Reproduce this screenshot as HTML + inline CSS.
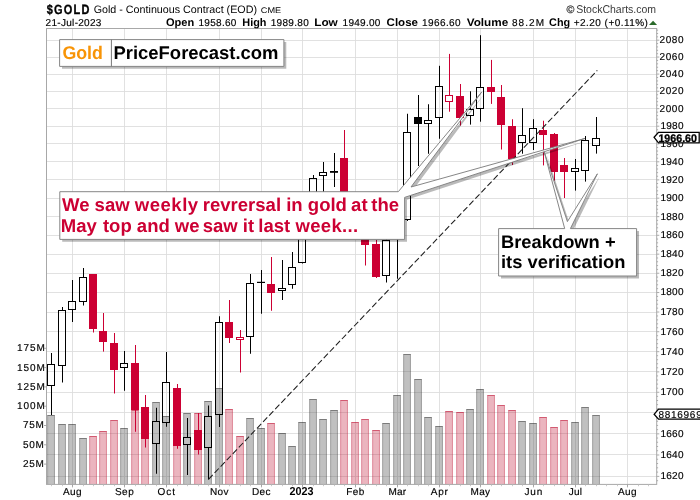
<!DOCTYPE html>
<html lang="en"><head><meta charset="utf-8"><title>$GOLD weekly chart</title>
<style>html,body{margin:0;padding:0;background:#fff}body{width:700px;height:500px;overflow:hidden}</style></head>
<body>
<svg width="700" height="500" viewBox="0 0 700 500" style="display:block;font-family:'Liberation Sans',sans-serif;text-rendering:geometricPrecision">
<rect width="700" height="500" fill="#fff"/>
<g stroke="#dcdcdc" stroke-width="0.85">
<line x1="46.5" y1="476.50" x2="656.7" y2="476.50"/>
<line x1="46.5" y1="454.50" x2="656.7" y2="454.50"/>
<line x1="46.5" y1="433.50" x2="656.7" y2="433.50"/>
<line x1="46.5" y1="412.50" x2="656.7" y2="412.50"/>
<line x1="46.5" y1="392.50" x2="656.7" y2="392.50"/>
<line x1="46.5" y1="371.50" x2="656.7" y2="371.50"/>
<line x1="46.5" y1="351.50" x2="656.7" y2="351.50"/>
<line x1="46.5" y1="331.50" x2="656.7" y2="331.50"/>
<line x1="46.5" y1="312.50" x2="656.7" y2="312.50"/>
<line x1="46.5" y1="292.50" x2="656.7" y2="292.50"/>
<line x1="46.5" y1="273.50" x2="656.7" y2="273.50"/>
<line x1="46.5" y1="254.50" x2="656.7" y2="254.50"/>
<line x1="46.5" y1="235.50" x2="656.7" y2="235.50"/>
<line x1="46.5" y1="216.50" x2="656.7" y2="216.50"/>
<line x1="46.5" y1="198.50" x2="656.7" y2="198.50"/>
<line x1="46.5" y1="179.50" x2="656.7" y2="179.50"/>
<line x1="46.5" y1="161.50" x2="656.7" y2="161.50"/>
<line x1="46.5" y1="143.50" x2="656.7" y2="143.50"/>
<line x1="46.5" y1="126.50" x2="656.7" y2="126.50"/>
<line x1="46.5" y1="108.50" x2="656.7" y2="108.50"/>
<line x1="46.5" y1="91.50" x2="656.7" y2="91.50"/>
<line x1="46.5" y1="74.50" x2="656.7" y2="74.50"/>
<line x1="46.5" y1="57.50" x2="656.7" y2="57.50"/>
<line x1="46.5" y1="40.50" x2="656.7" y2="40.50"/>
<line x1="72.50" y1="28.5" x2="72.50" y2="484.4"/>
<line x1="124.50" y1="28.5" x2="124.50" y2="484.4"/>
<line x1="166.50" y1="28.5" x2="166.50" y2="484.4"/>
<line x1="219.50" y1="28.5" x2="219.50" y2="484.4"/>
<line x1="261.50" y1="28.5" x2="261.50" y2="484.4"/>
<line x1="302.50" y1="28.5" x2="302.50" y2="484.4"/>
<line x1="355.50" y1="28.5" x2="355.50" y2="484.4"/>
<line x1="397.50" y1="28.5" x2="397.50" y2="484.4"/>
<line x1="439.50" y1="28.5" x2="439.50" y2="484.4"/>
<line x1="480.50" y1="28.5" x2="480.50" y2="484.4"/>
<line x1="533.50" y1="28.5" x2="533.50" y2="484.4"/>
<line x1="575.50" y1="28.5" x2="575.50" y2="484.4"/>
<line x1="627.50" y1="28.5" x2="627.50" y2="484.4"/>
</g>
<rect x="47.25" y="415" width="7.6" height="69.4" fill="rgba(90,90,90,0.38)"/>
<rect x="47.25" y="416" width="0.9" height="68.4" fill="rgba(0,0,0,0.23)"/>
<rect x="53.95" y="416" width="0.9" height="68.4" fill="rgba(0,0,0,0.23)"/>
<rect x="47.25" y="415" width="7.6" height="1" fill="rgba(0,0,0,0.36)"/>
<rect x="58.25" y="424" width="7.6" height="60.4" fill="rgba(90,90,90,0.38)"/>
<rect x="58.25" y="425" width="0.9" height="59.4" fill="rgba(0,0,0,0.23)"/>
<rect x="64.95" y="425" width="0.9" height="59.4" fill="rgba(0,0,0,0.23)"/>
<rect x="58.25" y="424" width="7.6" height="1" fill="rgba(0,0,0,0.36)"/>
<rect x="68.25" y="424" width="7.6" height="60.4" fill="rgba(90,90,90,0.38)"/>
<rect x="68.25" y="425" width="0.9" height="59.4" fill="rgba(0,0,0,0.23)"/>
<rect x="74.95" y="425" width="0.9" height="59.4" fill="rgba(0,0,0,0.23)"/>
<rect x="68.25" y="424" width="7.6" height="1" fill="rgba(0,0,0,0.36)"/>
<rect x="79.25" y="438" width="7.6" height="46.4" fill="rgba(90,90,90,0.38)"/>
<rect x="79.25" y="439" width="0.9" height="45.4" fill="rgba(0,0,0,0.23)"/>
<rect x="85.95" y="439" width="0.9" height="45.4" fill="rgba(0,0,0,0.23)"/>
<rect x="79.25" y="438" width="7.6" height="1" fill="rgba(0,0,0,0.36)"/>
<rect x="89.25" y="436" width="7.6" height="48.4" fill="rgba(190,15,50,0.31)"/>
<rect x="89.25" y="437" width="0.9" height="47.4" fill="rgba(190,15,50,0.33)"/>
<rect x="95.95" y="437" width="0.9" height="47.4" fill="rgba(190,15,50,0.33)"/>
<rect x="89.25" y="436" width="7.6" height="1" fill="rgba(190,15,50,0.55)"/>
<rect x="99.25" y="431" width="7.6" height="53.4" fill="rgba(190,15,50,0.31)"/>
<rect x="99.25" y="432" width="0.9" height="52.4" fill="rgba(190,15,50,0.33)"/>
<rect x="105.95" y="432" width="0.9" height="52.4" fill="rgba(190,15,50,0.33)"/>
<rect x="99.25" y="431" width="7.6" height="1" fill="rgba(190,15,50,0.55)"/>
<rect x="110.25" y="420" width="7.6" height="64.4" fill="rgba(190,15,50,0.31)"/>
<rect x="110.25" y="421" width="0.9" height="63.4" fill="rgba(190,15,50,0.33)"/>
<rect x="116.95" y="421" width="0.9" height="63.4" fill="rgba(190,15,50,0.33)"/>
<rect x="110.25" y="420" width="7.6" height="1" fill="rgba(190,15,50,0.55)"/>
<rect x="120.25" y="428" width="7.6" height="56.4" fill="rgba(90,90,90,0.38)"/>
<rect x="120.25" y="429" width="0.9" height="55.4" fill="rgba(0,0,0,0.23)"/>
<rect x="126.95" y="429" width="0.9" height="55.4" fill="rgba(0,0,0,0.23)"/>
<rect x="120.25" y="428" width="7.6" height="1" fill="rgba(0,0,0,0.36)"/>
<rect x="131.25" y="410" width="7.6" height="74.4" fill="rgba(190,15,50,0.31)"/>
<rect x="131.25" y="411" width="0.9" height="73.4" fill="rgba(190,15,50,0.33)"/>
<rect x="137.95" y="411" width="0.9" height="73.4" fill="rgba(190,15,50,0.33)"/>
<rect x="131.25" y="410" width="7.6" height="1" fill="rgba(190,15,50,0.55)"/>
<rect x="141.25" y="410" width="7.6" height="74.4" fill="rgba(190,15,50,0.31)"/>
<rect x="141.25" y="411" width="0.9" height="73.4" fill="rgba(190,15,50,0.33)"/>
<rect x="147.95" y="411" width="0.9" height="73.4" fill="rgba(190,15,50,0.33)"/>
<rect x="141.25" y="410" width="7.6" height="1" fill="rgba(190,15,50,0.55)"/>
<rect x="152.25" y="402" width="7.6" height="82.4" fill="rgba(90,90,90,0.38)"/>
<rect x="152.25" y="403" width="0.9" height="81.4" fill="rgba(0,0,0,0.23)"/>
<rect x="158.95" y="403" width="0.9" height="81.4" fill="rgba(0,0,0,0.23)"/>
<rect x="152.25" y="402" width="7.6" height="1" fill="rgba(0,0,0,0.36)"/>
<rect x="162.25" y="416" width="7.6" height="68.4" fill="rgba(90,90,90,0.38)"/>
<rect x="162.25" y="417" width="0.9" height="67.4" fill="rgba(0,0,0,0.23)"/>
<rect x="168.95" y="417" width="0.9" height="67.4" fill="rgba(0,0,0,0.23)"/>
<rect x="162.25" y="416" width="7.6" height="1" fill="rgba(0,0,0,0.36)"/>
<rect x="173.25" y="415" width="7.6" height="69.4" fill="rgba(190,15,50,0.31)"/>
<rect x="173.25" y="416" width="0.9" height="68.4" fill="rgba(190,15,50,0.33)"/>
<rect x="179.95" y="416" width="0.9" height="68.4" fill="rgba(190,15,50,0.33)"/>
<rect x="173.25" y="415" width="7.6" height="1" fill="rgba(190,15,50,0.55)"/>
<rect x="183.25" y="413" width="7.6" height="71.4" fill="rgba(90,90,90,0.38)"/>
<rect x="183.25" y="414" width="0.9" height="70.4" fill="rgba(0,0,0,0.23)"/>
<rect x="189.95" y="414" width="0.9" height="70.4" fill="rgba(0,0,0,0.23)"/>
<rect x="183.25" y="413" width="7.6" height="1" fill="rgba(0,0,0,0.36)"/>
<rect x="194.25" y="413" width="7.6" height="71.4" fill="rgba(190,15,50,0.31)"/>
<rect x="194.25" y="414" width="0.9" height="70.4" fill="rgba(190,15,50,0.33)"/>
<rect x="200.95" y="414" width="0.9" height="70.4" fill="rgba(190,15,50,0.33)"/>
<rect x="194.25" y="413" width="7.6" height="1" fill="rgba(190,15,50,0.55)"/>
<rect x="204.25" y="401" width="7.6" height="83.4" fill="rgba(90,90,90,0.38)"/>
<rect x="204.25" y="402" width="0.9" height="82.4" fill="rgba(0,0,0,0.23)"/>
<rect x="210.95" y="402" width="0.9" height="82.4" fill="rgba(0,0,0,0.23)"/>
<rect x="204.25" y="401" width="7.6" height="1" fill="rgba(0,0,0,0.36)"/>
<rect x="215.25" y="388" width="7.6" height="96.4" fill="rgba(90,90,90,0.38)"/>
<rect x="215.25" y="389" width="0.9" height="95.4" fill="rgba(0,0,0,0.23)"/>
<rect x="221.95" y="389" width="0.9" height="95.4" fill="rgba(0,0,0,0.23)"/>
<rect x="215.25" y="388" width="7.6" height="1" fill="rgba(0,0,0,0.36)"/>
<rect x="225.25" y="409" width="7.6" height="75.4" fill="rgba(190,15,50,0.31)"/>
<rect x="225.25" y="410" width="0.9" height="74.4" fill="rgba(190,15,50,0.33)"/>
<rect x="231.95" y="410" width="0.9" height="74.4" fill="rgba(190,15,50,0.33)"/>
<rect x="225.25" y="409" width="7.6" height="1" fill="rgba(190,15,50,0.55)"/>
<rect x="236.25" y="436" width="7.6" height="48.4" fill="rgba(190,15,50,0.31)"/>
<rect x="236.25" y="437" width="0.9" height="47.4" fill="rgba(190,15,50,0.33)"/>
<rect x="242.95" y="437" width="0.9" height="47.4" fill="rgba(190,15,50,0.33)"/>
<rect x="236.25" y="436" width="7.6" height="1" fill="rgba(190,15,50,0.55)"/>
<rect x="246.25" y="418" width="7.6" height="66.4" fill="rgba(90,90,90,0.38)"/>
<rect x="246.25" y="419" width="0.9" height="65.4" fill="rgba(0,0,0,0.23)"/>
<rect x="252.95" y="419" width="0.9" height="65.4" fill="rgba(0,0,0,0.23)"/>
<rect x="246.25" y="418" width="7.6" height="1" fill="rgba(0,0,0,0.36)"/>
<rect x="257.25" y="428" width="7.6" height="56.4" fill="rgba(90,90,90,0.38)"/>
<rect x="257.25" y="429" width="0.9" height="55.4" fill="rgba(0,0,0,0.23)"/>
<rect x="263.95" y="429" width="0.9" height="55.4" fill="rgba(0,0,0,0.23)"/>
<rect x="257.25" y="428" width="7.6" height="1" fill="rgba(0,0,0,0.36)"/>
<rect x="267.25" y="423" width="7.6" height="61.4" fill="rgba(190,15,50,0.31)"/>
<rect x="267.25" y="424" width="0.9" height="60.4" fill="rgba(190,15,50,0.33)"/>
<rect x="273.95" y="424" width="0.9" height="60.4" fill="rgba(190,15,50,0.33)"/>
<rect x="267.25" y="423" width="7.6" height="1" fill="rgba(190,15,50,0.55)"/>
<rect x="278.25" y="433" width="7.6" height="51.4" fill="rgba(90,90,90,0.38)"/>
<rect x="278.25" y="434" width="0.9" height="50.4" fill="rgba(0,0,0,0.23)"/>
<rect x="284.95" y="434" width="0.9" height="50.4" fill="rgba(0,0,0,0.23)"/>
<rect x="278.25" y="433" width="7.6" height="1" fill="rgba(0,0,0,0.36)"/>
<rect x="288.25" y="446" width="7.6" height="38.4" fill="rgba(90,90,90,0.38)"/>
<rect x="288.25" y="447" width="0.9" height="37.4" fill="rgba(0,0,0,0.23)"/>
<rect x="294.95" y="447" width="0.9" height="37.4" fill="rgba(0,0,0,0.23)"/>
<rect x="288.25" y="446" width="7.6" height="1" fill="rgba(0,0,0,0.36)"/>
<rect x="298.25" y="422" width="7.6" height="62.4" fill="rgba(90,90,90,0.38)"/>
<rect x="298.25" y="423" width="0.9" height="61.4" fill="rgba(0,0,0,0.23)"/>
<rect x="304.95" y="423" width="0.9" height="61.4" fill="rgba(0,0,0,0.23)"/>
<rect x="298.25" y="422" width="7.6" height="1" fill="rgba(0,0,0,0.36)"/>
<rect x="309.25" y="399" width="7.6" height="85.4" fill="rgba(90,90,90,0.38)"/>
<rect x="309.25" y="400" width="0.9" height="84.4" fill="rgba(0,0,0,0.23)"/>
<rect x="315.95" y="400" width="0.9" height="84.4" fill="rgba(0,0,0,0.23)"/>
<rect x="309.25" y="399" width="7.6" height="1" fill="rgba(0,0,0,0.36)"/>
<rect x="319.25" y="419" width="7.6" height="65.4" fill="rgba(90,90,90,0.38)"/>
<rect x="319.25" y="420" width="0.9" height="64.4" fill="rgba(0,0,0,0.23)"/>
<rect x="325.95" y="420" width="0.9" height="64.4" fill="rgba(0,0,0,0.23)"/>
<rect x="319.25" y="419" width="7.6" height="1" fill="rgba(0,0,0,0.36)"/>
<rect x="330.25" y="410" width="7.6" height="74.4" fill="rgba(90,90,90,0.38)"/>
<rect x="330.25" y="411" width="0.9" height="73.4" fill="rgba(0,0,0,0.23)"/>
<rect x="336.95" y="411" width="0.9" height="73.4" fill="rgba(0,0,0,0.23)"/>
<rect x="330.25" y="410" width="7.6" height="1" fill="rgba(0,0,0,0.36)"/>
<rect x="340.25" y="400" width="7.6" height="84.4" fill="rgba(190,15,50,0.31)"/>
<rect x="340.25" y="401" width="0.9" height="83.4" fill="rgba(190,15,50,0.33)"/>
<rect x="346.95" y="401" width="0.9" height="83.4" fill="rgba(190,15,50,0.33)"/>
<rect x="340.25" y="400" width="7.6" height="1" fill="rgba(190,15,50,0.55)"/>
<rect x="351.25" y="422" width="7.6" height="62.4" fill="rgba(190,15,50,0.31)"/>
<rect x="351.25" y="423" width="0.9" height="61.4" fill="rgba(190,15,50,0.33)"/>
<rect x="357.95" y="423" width="0.9" height="61.4" fill="rgba(190,15,50,0.33)"/>
<rect x="351.25" y="422" width="7.6" height="1" fill="rgba(190,15,50,0.55)"/>
<rect x="361.25" y="419" width="7.6" height="65.4" fill="rgba(190,15,50,0.31)"/>
<rect x="361.25" y="420" width="0.9" height="64.4" fill="rgba(190,15,50,0.33)"/>
<rect x="367.95" y="420" width="0.9" height="64.4" fill="rgba(190,15,50,0.33)"/>
<rect x="361.25" y="419" width="7.6" height="1" fill="rgba(190,15,50,0.55)"/>
<rect x="372.25" y="430" width="7.6" height="54.4" fill="rgba(190,15,50,0.31)"/>
<rect x="372.25" y="431" width="0.9" height="53.4" fill="rgba(190,15,50,0.33)"/>
<rect x="378.95" y="431" width="0.9" height="53.4" fill="rgba(190,15,50,0.33)"/>
<rect x="372.25" y="430" width="7.6" height="1" fill="rgba(190,15,50,0.55)"/>
<rect x="382.25" y="423" width="7.6" height="61.4" fill="rgba(90,90,90,0.38)"/>
<rect x="382.25" y="424" width="0.9" height="60.4" fill="rgba(0,0,0,0.23)"/>
<rect x="388.95" y="424" width="0.9" height="60.4" fill="rgba(0,0,0,0.23)"/>
<rect x="382.25" y="423" width="7.6" height="1" fill="rgba(0,0,0,0.36)"/>
<rect x="393.25" y="395" width="7.6" height="89.4" fill="rgba(90,90,90,0.38)"/>
<rect x="393.25" y="396" width="0.9" height="88.4" fill="rgba(0,0,0,0.23)"/>
<rect x="399.95" y="396" width="0.9" height="88.4" fill="rgba(0,0,0,0.23)"/>
<rect x="393.25" y="395" width="7.6" height="1" fill="rgba(0,0,0,0.36)"/>
<rect x="403.25" y="354" width="7.6" height="130.4" fill="rgba(90,90,90,0.38)"/>
<rect x="403.25" y="355" width="0.9" height="129.4" fill="rgba(0,0,0,0.23)"/>
<rect x="409.95" y="355" width="0.9" height="129.4" fill="rgba(0,0,0,0.23)"/>
<rect x="403.25" y="354" width="7.6" height="1" fill="rgba(0,0,0,0.36)"/>
<rect x="414.25" y="379" width="7.6" height="105.4" fill="rgba(90,90,90,0.38)"/>
<rect x="414.25" y="380" width="0.9" height="104.4" fill="rgba(0,0,0,0.23)"/>
<rect x="420.95" y="380" width="0.9" height="104.4" fill="rgba(0,0,0,0.23)"/>
<rect x="414.25" y="379" width="7.6" height="1" fill="rgba(0,0,0,0.36)"/>
<rect x="424.25" y="417" width="7.6" height="67.4" fill="rgba(90,90,90,0.38)"/>
<rect x="424.25" y="418" width="0.9" height="66.4" fill="rgba(0,0,0,0.23)"/>
<rect x="430.95" y="418" width="0.9" height="66.4" fill="rgba(0,0,0,0.23)"/>
<rect x="424.25" y="417" width="7.6" height="1" fill="rgba(0,0,0,0.36)"/>
<rect x="435.25" y="426" width="7.6" height="58.4" fill="rgba(90,90,90,0.38)"/>
<rect x="435.25" y="427" width="0.9" height="57.4" fill="rgba(0,0,0,0.23)"/>
<rect x="441.95" y="427" width="0.9" height="57.4" fill="rgba(0,0,0,0.23)"/>
<rect x="435.25" y="426" width="7.6" height="1" fill="rgba(0,0,0,0.36)"/>
<rect x="445.25" y="411" width="7.6" height="73.4" fill="rgba(190,15,50,0.31)"/>
<rect x="445.25" y="412" width="0.9" height="72.4" fill="rgba(190,15,50,0.33)"/>
<rect x="451.95" y="412" width="0.9" height="72.4" fill="rgba(190,15,50,0.33)"/>
<rect x="445.25" y="411" width="7.6" height="1" fill="rgba(190,15,50,0.55)"/>
<rect x="456.25" y="412" width="7.6" height="72.4" fill="rgba(190,15,50,0.31)"/>
<rect x="456.25" y="413" width="0.9" height="71.4" fill="rgba(190,15,50,0.33)"/>
<rect x="462.95" y="413" width="0.9" height="71.4" fill="rgba(190,15,50,0.33)"/>
<rect x="456.25" y="412" width="7.6" height="1" fill="rgba(190,15,50,0.55)"/>
<rect x="466.25" y="409" width="7.6" height="75.4" fill="rgba(90,90,90,0.38)"/>
<rect x="466.25" y="410" width="0.9" height="74.4" fill="rgba(0,0,0,0.23)"/>
<rect x="472.95" y="410" width="0.9" height="74.4" fill="rgba(0,0,0,0.23)"/>
<rect x="466.25" y="409" width="7.6" height="1" fill="rgba(0,0,0,0.36)"/>
<rect x="476.25" y="389" width="7.6" height="95.4" fill="rgba(90,90,90,0.38)"/>
<rect x="476.25" y="390" width="0.9" height="94.4" fill="rgba(0,0,0,0.23)"/>
<rect x="482.95" y="390" width="0.9" height="94.4" fill="rgba(0,0,0,0.23)"/>
<rect x="476.25" y="389" width="7.6" height="1" fill="rgba(0,0,0,0.36)"/>
<rect x="487.25" y="395" width="7.6" height="89.4" fill="rgba(190,15,50,0.31)"/>
<rect x="487.25" y="396" width="0.9" height="88.4" fill="rgba(190,15,50,0.33)"/>
<rect x="493.95" y="396" width="0.9" height="88.4" fill="rgba(190,15,50,0.33)"/>
<rect x="487.25" y="395" width="7.6" height="1" fill="rgba(190,15,50,0.55)"/>
<rect x="497.25" y="405" width="7.6" height="79.4" fill="rgba(190,15,50,0.31)"/>
<rect x="497.25" y="406" width="0.9" height="78.4" fill="rgba(190,15,50,0.33)"/>
<rect x="503.95" y="406" width="0.9" height="78.4" fill="rgba(190,15,50,0.33)"/>
<rect x="497.25" y="405" width="7.6" height="1" fill="rgba(190,15,50,0.55)"/>
<rect x="508.25" y="410" width="7.6" height="74.4" fill="rgba(190,15,50,0.31)"/>
<rect x="508.25" y="411" width="0.9" height="73.4" fill="rgba(190,15,50,0.33)"/>
<rect x="514.95" y="411" width="0.9" height="73.4" fill="rgba(190,15,50,0.33)"/>
<rect x="508.25" y="410" width="7.6" height="1" fill="rgba(190,15,50,0.55)"/>
<rect x="518.25" y="421" width="7.6" height="63.4" fill="rgba(90,90,90,0.38)"/>
<rect x="518.25" y="422" width="0.9" height="62.4" fill="rgba(0,0,0,0.23)"/>
<rect x="524.95" y="422" width="0.9" height="62.4" fill="rgba(0,0,0,0.23)"/>
<rect x="518.25" y="421" width="7.6" height="1" fill="rgba(0,0,0,0.36)"/>
<rect x="529.25" y="423" width="7.6" height="61.4" fill="rgba(90,90,90,0.38)"/>
<rect x="529.25" y="424" width="0.9" height="60.4" fill="rgba(0,0,0,0.23)"/>
<rect x="535.95" y="424" width="0.9" height="60.4" fill="rgba(0,0,0,0.23)"/>
<rect x="529.25" y="423" width="7.6" height="1" fill="rgba(0,0,0,0.36)"/>
<rect x="539.25" y="417" width="7.6" height="67.4" fill="rgba(190,15,50,0.31)"/>
<rect x="539.25" y="418" width="0.9" height="66.4" fill="rgba(190,15,50,0.33)"/>
<rect x="545.95" y="418" width="0.9" height="66.4" fill="rgba(190,15,50,0.33)"/>
<rect x="539.25" y="417" width="7.6" height="1" fill="rgba(190,15,50,0.55)"/>
<rect x="550.25" y="427" width="7.6" height="57.4" fill="rgba(190,15,50,0.31)"/>
<rect x="550.25" y="428" width="0.9" height="56.4" fill="rgba(190,15,50,0.33)"/>
<rect x="556.95" y="428" width="0.9" height="56.4" fill="rgba(190,15,50,0.33)"/>
<rect x="550.25" y="427" width="7.6" height="1" fill="rgba(190,15,50,0.55)"/>
<rect x="560.25" y="420" width="7.6" height="64.4" fill="rgba(190,15,50,0.31)"/>
<rect x="560.25" y="421" width="0.9" height="63.4" fill="rgba(190,15,50,0.33)"/>
<rect x="566.95" y="421" width="0.9" height="63.4" fill="rgba(190,15,50,0.33)"/>
<rect x="560.25" y="420" width="7.6" height="1" fill="rgba(190,15,50,0.55)"/>
<rect x="571.25" y="422" width="7.6" height="62.4" fill="rgba(90,90,90,0.38)"/>
<rect x="571.25" y="423" width="0.9" height="61.4" fill="rgba(0,0,0,0.23)"/>
<rect x="577.95" y="423" width="0.9" height="61.4" fill="rgba(0,0,0,0.23)"/>
<rect x="571.25" y="422" width="7.6" height="1" fill="rgba(0,0,0,0.36)"/>
<rect x="581.25" y="407" width="7.6" height="77.4" fill="rgba(90,90,90,0.38)"/>
<rect x="581.25" y="408" width="0.9" height="76.4" fill="rgba(0,0,0,0.23)"/>
<rect x="587.95" y="408" width="0.9" height="76.4" fill="rgba(0,0,0,0.23)"/>
<rect x="581.25" y="407" width="7.6" height="1" fill="rgba(0,0,0,0.36)"/>
<rect x="592.25" y="415" width="7.6" height="69.4" fill="rgba(90,90,90,0.38)"/>
<rect x="592.25" y="416" width="0.9" height="68.4" fill="rgba(0,0,0,0.23)"/>
<rect x="598.95" y="416" width="0.9" height="68.4" fill="rgba(0,0,0,0.23)"/>
<rect x="592.25" y="415" width="7.6" height="1" fill="rgba(0,0,0,0.36)"/>
<rect x="51" y="353.00" width="1" height="11.00" fill="#000"/>
<rect x="51" y="386" width="1" height="29.00" fill="#000"/>
<rect x="47.5" y="364.5" width="7" height="21" fill="none" stroke="#000" stroke-width="1"/>
<rect x="62" y="307.00" width="1" height="3.00" fill="#000"/>
<rect x="62" y="366" width="1" height="16.50" fill="#000"/>
<rect x="58.5" y="310.5" width="7" height="55" fill="none" stroke="#000" stroke-width="1"/>
<rect x="72" y="280.00" width="1" height="21.00" fill="#000"/>
<rect x="72" y="310" width="1" height="12.00" fill="#000"/>
<rect x="68.5" y="301.5" width="7" height="8" fill="none" stroke="#000" stroke-width="1"/>
<rect x="83" y="268.00" width="1" height="9.00" fill="#000"/>
<rect x="83" y="302" width="1" height="3.50" fill="#000"/>
<rect x="79.5" y="277.5" width="7" height="24" fill="none" stroke="#000" stroke-width="1"/>
<rect x="93" y="274.00" width="1" height="58.50" fill="#cc0033"/>
<rect x="89" y="274" width="8" height="55" fill="#cc0033"/>
<rect x="103" y="313.00" width="1" height="38.60" fill="#cc0033"/>
<rect x="99" y="331" width="8" height="11" fill="#cc0033"/>
<rect x="114" y="333.00" width="1" height="60.50" fill="#cc0033"/>
<rect x="110" y="343" width="8" height="27" fill="#cc0033"/>
<rect x="124" y="351.00" width="1" height="12.00" fill="#000"/>
<rect x="124" y="368" width="1" height="22.75" fill="#000"/>
<rect x="120.5" y="363.5" width="7" height="4" fill="none" stroke="#000" stroke-width="1"/>
<rect x="135" y="345.00" width="1" height="86.75" fill="#cc0033"/>
<rect x="131" y="363" width="8" height="47" fill="#cc0033"/>
<rect x="145" y="395.00" width="1" height="52.50" fill="#cc0033"/>
<rect x="141" y="407" width="8" height="32" fill="#cc0033"/>
<rect x="156" y="407.75" width="1" height="13.25" fill="#000"/>
<rect x="156" y="444" width="1" height="29.75" fill="#000"/>
<rect x="152.5" y="421.5" width="7" height="22" fill="none" stroke="#000" stroke-width="1"/>
<rect x="166" y="352.00" width="1" height="30.00" fill="#000"/>
<rect x="166" y="423" width="1" height="3.75" fill="#000"/>
<rect x="162.5" y="382.5" width="7" height="40" fill="none" stroke="#000" stroke-width="1"/>
<rect x="177" y="384.00" width="1" height="64.75" fill="#cc0033"/>
<rect x="173" y="388" width="8" height="58" fill="#cc0033"/>
<rect x="187" y="418.00" width="1" height="19.00" fill="#000"/>
<rect x="187" y="445" width="1" height="30.00" fill="#000"/>
<rect x="183.5" y="437.5" width="7" height="7" fill="none" stroke="#000" stroke-width="1"/>
<rect x="198" y="413.00" width="1" height="41.50" fill="#cc0033"/>
<rect x="194" y="430" width="8" height="20" fill="#cc0033"/>
<rect x="208" y="405.50" width="1" height="10.50" fill="#000"/>
<rect x="208" y="448" width="1" height="31.50" fill="#000"/>
<rect x="204.5" y="416.5" width="7" height="31" fill="none" stroke="#000" stroke-width="1"/>
<rect x="219" y="316.25" width="1" height="5.75" fill="#000"/>
<rect x="219" y="415" width="1" height="12.00" fill="#000"/>
<rect x="215.5" y="322.5" width="7" height="92" fill="none" stroke="#000" stroke-width="1"/>
<rect x="229" y="300.00" width="1" height="43.00" fill="#cc0033"/>
<rect x="225" y="322" width="8" height="16" fill="#cc0033"/>
<rect x="240" y="330.00" width="1" height="7.00" fill="#cc0033"/>
<rect x="240" y="340" width="1" height="32.50" fill="#cc0033"/>
<rect x="236.5" y="337.5" width="7" height="2" fill="none" stroke="#cc0033" stroke-width="1"/>
<rect x="250" y="274.00" width="1" height="9.00" fill="#000"/>
<rect x="250" y="337" width="1" height="16.75" fill="#000"/>
<rect x="246.5" y="283.5" width="7" height="53" fill="none" stroke="#000" stroke-width="1"/>
<rect x="261" y="270.00" width="1" height="43.75" fill="#000"/>
<rect x="257" y="281.80" width="8" height="1.20" fill="#000"/>
<rect x="271" y="257.00" width="1" height="53.75" fill="#cc0033"/>
<rect x="267" y="284" width="8" height="9" fill="#cc0033"/>
<rect x="282" y="260.00" width="1" height="28.00" fill="#000"/>
<rect x="282" y="291" width="1" height="9.00" fill="#000"/>
<rect x="278.5" y="288.5" width="7" height="2" fill="none" stroke="#000" stroke-width="1"/>
<rect x="292" y="252.00" width="1" height="15.00" fill="#000"/>
<rect x="292" y="285" width="1" height="3.75" fill="#000"/>
<rect x="288.5" y="267.5" width="7" height="17" fill="none" stroke="#000" stroke-width="1"/>
<rect x="302" y="221.00" width="1" height="5.00" fill="#000"/>
<rect x="302" y="263" width="1" height="0.50" fill="#000"/>
<rect x="298.5" y="226.5" width="7" height="36" fill="none" stroke="#000" stroke-width="1"/>
<rect x="313" y="175.00" width="1" height="3.00" fill="#000"/>
<rect x="313" y="224" width="1" height="6.00" fill="#000"/>
<rect x="309.5" y="178.5" width="7" height="45" fill="none" stroke="#000" stroke-width="1"/>
<rect x="323" y="162.00" width="1" height="10.00" fill="#000"/>
<rect x="323" y="176" width="1" height="19.00" fill="#000"/>
<rect x="319.5" y="172.5" width="7" height="3" fill="none" stroke="#000" stroke-width="1"/>
<rect x="334" y="153.00" width="1" height="34.00" fill="#000"/>
<rect x="330" y="171.00" width="8" height="1.80" fill="#000"/>
<rect x="344" y="130.00" width="1" height="104.00" fill="#cc0033"/>
<rect x="340" y="158" width="8" height="62" fill="#cc0033"/>
<rect x="355" y="196.00" width="1" height="36.00" fill="#cc0033"/>
<rect x="351" y="217" width="8" height="5" fill="#cc0033"/>
<rect x="365" y="205.00" width="1" height="60.50" fill="#cc0033"/>
<rect x="361" y="222" width="8" height="23" fill="#cc0033"/>
<rect x="376" y="240.00" width="1" height="38.00" fill="#cc0033"/>
<rect x="372" y="244" width="8" height="33" fill="#cc0033"/>
<rect x="386" y="231.00" width="1" height="9.00" fill="#000"/>
<rect x="386" y="276" width="1" height="6.50" fill="#000"/>
<rect x="382.5" y="240.5" width="7" height="35" fill="none" stroke="#000" stroke-width="1"/>
<rect x="397" y="222.00" width="1" height="6.00" fill="#000"/>
<rect x="397" y="238" width="1" height="40.75" fill="#000"/>
<rect x="393.5" y="228.5" width="7" height="9" fill="none" stroke="#000" stroke-width="1"/>
<rect x="407" y="113.75" width="1" height="18.25" fill="#000"/>
<rect x="407" y="220" width="1" height="1.00" fill="#000"/>
<rect x="403.5" y="132.5" width="7" height="87" fill="none" stroke="#000" stroke-width="1"/>
<rect x="418" y="95.00" width="1" height="71.00" fill="#000"/>
<rect x="414" y="117" width="8" height="7" fill="#000"/>
<rect x="428" y="104.25" width="1" height="15.75" fill="#000"/>
<rect x="428" y="124" width="1" height="29.75" fill="#000"/>
<rect x="424.5" y="120.5" width="7" height="3" fill="none" stroke="#000" stroke-width="1"/>
<rect x="439" y="65.80" width="1" height="20.20" fill="#000"/>
<rect x="439" y="118" width="1" height="20.75" fill="#000"/>
<rect x="435.5" y="86.5" width="7" height="31" fill="none" stroke="#000" stroke-width="1"/>
<rect x="449" y="53.90" width="1" height="41.10" fill="#cc0033"/>
<rect x="449" y="102" width="1" height="9.70" fill="#cc0033"/>
<rect x="445.5" y="95.5" width="7" height="6" fill="none" stroke="#cc0033" stroke-width="1"/>
<rect x="460" y="84.00" width="1" height="41.60" fill="#cc0033"/>
<rect x="456" y="96" width="8" height="22" fill="#cc0033"/>
<rect x="470" y="91.30" width="1" height="17.70" fill="#000"/>
<rect x="470" y="116" width="1" height="8.60" fill="#000"/>
<rect x="466.5" y="109.5" width="7" height="6" fill="none" stroke="#000" stroke-width="1"/>
<rect x="480" y="35.20" width="1" height="51.80" fill="#000"/>
<rect x="480" y="109" width="1" height="12.70" fill="#000"/>
<rect x="476.5" y="87.5" width="7" height="21" fill="none" stroke="#000" stroke-width="1"/>
<rect x="491" y="59.90" width="1" height="44.00" fill="#cc0033"/>
<rect x="487" y="87" width="8" height="5" fill="#cc0033"/>
<rect x="501" y="85.00" width="1" height="64.50" fill="#cc0033"/>
<rect x="497" y="97" width="8" height="28" fill="#cc0033"/>
<rect x="512" y="119.25" width="1" height="45.75" fill="#cc0033"/>
<rect x="508" y="126" width="8" height="33" fill="#cc0033"/>
<rect x="522" y="108.20" width="1" height="26.80" fill="#000"/>
<rect x="522" y="143" width="1" height="10.70" fill="#000"/>
<rect x="518.5" y="135.5" width="7" height="7" fill="none" stroke="#000" stroke-width="1"/>
<rect x="533" y="119.20" width="1" height="8.80" fill="#000"/>
<rect x="533" y="143" width="1" height="7.00" fill="#000"/>
<rect x="529.5" y="128.5" width="7" height="14" fill="none" stroke="#000" stroke-width="1"/>
<rect x="543" y="120.70" width="1" height="44.70" fill="#cc0033"/>
<rect x="539" y="130" width="8" height="5" fill="#cc0033"/>
<rect x="554" y="133.00" width="1" height="47.60" fill="#cc0033"/>
<rect x="550" y="134" width="8" height="38" fill="#cc0033"/>
<rect x="564" y="158.00" width="1" height="40.00" fill="#cc0033"/>
<rect x="560" y="165" width="8" height="7" fill="#cc0033"/>
<rect x="575" y="159.00" width="1" height="9.00" fill="#000"/>
<rect x="575" y="172" width="1" height="18.60" fill="#000"/>
<rect x="571.5" y="168.5" width="7" height="3" fill="none" stroke="#000" stroke-width="1"/>
<rect x="585" y="136.00" width="1" height="4.00" fill="#000"/>
<rect x="585" y="171" width="1" height="10.60" fill="#000"/>
<rect x="581.5" y="140.5" width="7" height="30" fill="none" stroke="#000" stroke-width="1"/>
<rect x="596" y="117.00" width="1" height="21.00" fill="#000"/>
<rect x="596" y="146" width="1" height="7.60" fill="#000"/>
<rect x="592.5" y="138.5" width="7" height="7" fill="none" stroke="#000" stroke-width="1"/>
<line x1="208.5" y1="479.3" x2="597.3" y2="70.4" stroke="#1c1c1c" stroke-width="1.05" stroke-dasharray="6.1 2.7"/>
<polygon points="62.0,42.0 286.3,42.0 286.3,68.8 62.0,68.8" fill="#000" opacity="0.27"/>
<polygon points="59.6,39.6 283.9,39.6 283.9,66.4 59.6,66.4" fill="#fff" stroke="#808080" stroke-width="0.95"/>
<polygon points="62.2,194.1 400.7,194.1 484.0,94.6 413.4,189.4 587.4,140.8 407.0,199.8 407.0,241.8 62.2,241.8" fill="#000" opacity="0.27"/>
<polygon points="59.8,191.7 398.3,191.7 481.6,92.2 411.0,187.0 585.0,138.4 404.6,197.4 404.6,239.4 59.8,239.4" fill="#fff" stroke="#808080" stroke-width="0.95"/>
<polygon points="501.0,231.0 567.1,231.0 546.6,154.2 569.8,224.0 599.8,176.2 572.8,231.0 639.0,231.0 639.0,278.4 501.0,278.4" fill="#000" opacity="0.27"/>
<polygon points="498.6,228.6 564.7,228.6 544.2,151.8 567.4,221.6 597.4,173.8 570.4,228.6 636.6,228.6 636.6,276.0 498.6,276.0" fill="#fff" stroke="#808080" stroke-width="0.95"/>
<line x1="111.4" y1="39.6" x2="111.4" y2="66.4" stroke="#777" stroke-width="1"/>
<text x="62.4" y="58.7" font-size="18.4" textLength="40.5" lengthAdjust="spacingAndGlyphs" fill="#f89406" font-weight="bold">Gold</text>
<text x="113.5" y="58.7" font-size="18.4" textLength="165.0" lengthAdjust="spacingAndGlyphs" fill="#000" font-weight="bold">PriceForecast.com</text>
<text x="62.0" y="210.9" font-size="18.54" font-weight="bold" fill="#cc0033">We saw <tspan letter-spacing="0.5">weekly</tspan><tspan dx="-1"> revrersal in gold</tspan><tspan dx="-1"> at</tspan><tspan dx="-1.5"> the</tspan></text>
<text x="60.8" y="231.7" font-size="18.5" font-weight="bold" fill="#cc0033">May<tspan dx="1"> top and we</tspan><tspan dx="-2"> saw it</tspan><tspan dx="-1"> last</tspan><tspan letter-spacing="0.3"> week...</tspan></text>
<text x="501.0" y="247.9" font-size="18" textLength="114.6" lengthAdjust="spacingAndGlyphs" fill="#000" font-weight="bold">Breakdown +</text>
<text x="501.0" y="268.3" font-size="18" textLength="124.4" lengthAdjust="spacingAndGlyphs" fill="#000" font-weight="bold">its verification</text>
<rect x="46.5" y="28.5" width="610.2" height="455.9" fill="none" stroke="#a8a8a8" stroke-width="1"/>
<g stroke="#a4a4a4" stroke-width="0.9">
<line x1="656.7" y1="480.71" x2="658.1" y2="480.71"/>
<line x1="656.7" y1="476.40" x2="659.3" y2="476.40"/>
<line x1="656.7" y1="472.10" x2="658.1" y2="472.10"/>
<line x1="656.7" y1="467.80" x2="658.1" y2="467.80"/>
<line x1="656.7" y1="463.52" x2="658.1" y2="463.52"/>
<line x1="656.7" y1="459.25" x2="658.1" y2="459.25"/>
<line x1="656.7" y1="454.99" x2="659.3" y2="454.99"/>
<line x1="656.7" y1="450.73" x2="658.1" y2="450.73"/>
<line x1="656.7" y1="446.49" x2="658.1" y2="446.49"/>
<line x1="656.7" y1="442.26" x2="658.1" y2="442.26"/>
<line x1="656.7" y1="438.04" x2="658.1" y2="438.04"/>
<line x1="656.7" y1="433.83" x2="659.3" y2="433.83"/>
<line x1="656.7" y1="429.63" x2="658.1" y2="429.63"/>
<line x1="656.7" y1="425.44" x2="658.1" y2="425.44"/>
<line x1="656.7" y1="421.26" x2="658.1" y2="421.26"/>
<line x1="656.7" y1="417.09" x2="658.1" y2="417.09"/>
<line x1="656.7" y1="412.93" x2="659.3" y2="412.93"/>
<line x1="656.7" y1="408.78" x2="658.1" y2="408.78"/>
<line x1="656.7" y1="404.64" x2="658.1" y2="404.64"/>
<line x1="656.7" y1="400.51" x2="658.1" y2="400.51"/>
<line x1="656.7" y1="396.39" x2="658.1" y2="396.39"/>
<line x1="656.7" y1="392.28" x2="659.3" y2="392.28"/>
<line x1="656.7" y1="388.18" x2="658.1" y2="388.18"/>
<line x1="656.7" y1="384.08" x2="658.1" y2="384.08"/>
<line x1="656.7" y1="380.00" x2="658.1" y2="380.00"/>
<line x1="656.7" y1="375.93" x2="658.1" y2="375.93"/>
<line x1="656.7" y1="371.87" x2="659.3" y2="371.87"/>
<line x1="656.7" y1="367.81" x2="658.1" y2="367.81"/>
<line x1="656.7" y1="363.77" x2="658.1" y2="363.77"/>
<line x1="656.7" y1="359.73" x2="658.1" y2="359.73"/>
<line x1="656.7" y1="355.71" x2="658.1" y2="355.71"/>
<line x1="656.7" y1="351.69" x2="659.3" y2="351.69"/>
<line x1="656.7" y1="347.68" x2="658.1" y2="347.68"/>
<line x1="656.7" y1="343.68" x2="658.1" y2="343.68"/>
<line x1="656.7" y1="339.70" x2="658.1" y2="339.70"/>
<line x1="656.7" y1="335.72" x2="658.1" y2="335.72"/>
<line x1="656.7" y1="331.74" x2="659.3" y2="331.74"/>
<line x1="656.7" y1="327.78" x2="658.1" y2="327.78"/>
<line x1="656.7" y1="323.83" x2="658.1" y2="323.83"/>
<line x1="656.7" y1="319.89" x2="658.1" y2="319.89"/>
<line x1="656.7" y1="315.95" x2="658.1" y2="315.95"/>
<line x1="656.7" y1="312.02" x2="659.3" y2="312.02"/>
<line x1="656.7" y1="308.11" x2="658.1" y2="308.11"/>
<line x1="656.7" y1="304.20" x2="658.1" y2="304.20"/>
<line x1="656.7" y1="300.30" x2="658.1" y2="300.30"/>
<line x1="656.7" y1="296.41" x2="658.1" y2="296.41"/>
<line x1="656.7" y1="292.52" x2="659.3" y2="292.52"/>
<line x1="656.7" y1="288.65" x2="658.1" y2="288.65"/>
<line x1="656.7" y1="284.79" x2="658.1" y2="284.79"/>
<line x1="656.7" y1="280.93" x2="658.1" y2="280.93"/>
<line x1="656.7" y1="277.08" x2="658.1" y2="277.08"/>
<line x1="656.7" y1="273.24" x2="659.3" y2="273.24"/>
<line x1="656.7" y1="269.41" x2="658.1" y2="269.41"/>
<line x1="656.7" y1="265.59" x2="658.1" y2="265.59"/>
<line x1="656.7" y1="261.77" x2="658.1" y2="261.77"/>
<line x1="656.7" y1="257.97" x2="658.1" y2="257.97"/>
<line x1="656.7" y1="254.17" x2="659.3" y2="254.17"/>
<line x1="656.7" y1="250.38" x2="658.1" y2="250.38"/>
<line x1="656.7" y1="246.60" x2="658.1" y2="246.60"/>
<line x1="656.7" y1="242.82" x2="658.1" y2="242.82"/>
<line x1="656.7" y1="239.06" x2="658.1" y2="239.06"/>
<line x1="656.7" y1="235.30" x2="659.3" y2="235.30"/>
<line x1="656.7" y1="231.55" x2="658.1" y2="231.55"/>
<line x1="656.7" y1="227.81" x2="658.1" y2="227.81"/>
<line x1="656.7" y1="224.08" x2="658.1" y2="224.08"/>
<line x1="656.7" y1="220.35" x2="658.1" y2="220.35"/>
<line x1="656.7" y1="216.63" x2="659.3" y2="216.63"/>
<line x1="656.7" y1="212.93" x2="658.1" y2="212.93"/>
<line x1="656.7" y1="209.22" x2="658.1" y2="209.22"/>
<line x1="656.7" y1="205.53" x2="658.1" y2="205.53"/>
<line x1="656.7" y1="201.84" x2="658.1" y2="201.84"/>
<line x1="656.7" y1="198.17" x2="659.3" y2="198.17"/>
<line x1="656.7" y1="194.50" x2="658.1" y2="194.50"/>
<line x1="656.7" y1="190.83" x2="658.1" y2="190.83"/>
<line x1="656.7" y1="187.18" x2="658.1" y2="187.18"/>
<line x1="656.7" y1="183.53" x2="658.1" y2="183.53"/>
<line x1="656.7" y1="179.89" x2="659.3" y2="179.89"/>
<line x1="656.7" y1="176.26" x2="658.1" y2="176.26"/>
<line x1="656.7" y1="172.64" x2="658.1" y2="172.64"/>
<line x1="656.7" y1="169.02" x2="658.1" y2="169.02"/>
<line x1="656.7" y1="165.41" x2="658.1" y2="165.41"/>
<line x1="656.7" y1="161.81" x2="659.3" y2="161.81"/>
<line x1="656.7" y1="158.21" x2="658.1" y2="158.21"/>
<line x1="656.7" y1="154.63" x2="658.1" y2="154.63"/>
<line x1="656.7" y1="151.05" x2="658.1" y2="151.05"/>
<line x1="656.7" y1="147.47" x2="658.1" y2="147.47"/>
<line x1="656.7" y1="143.91" x2="659.3" y2="143.91"/>
<line x1="656.7" y1="140.35" x2="658.1" y2="140.35"/>
<line x1="656.7" y1="136.80" x2="658.1" y2="136.80"/>
<line x1="656.7" y1="133.26" x2="658.1" y2="133.26"/>
<line x1="656.7" y1="129.72" x2="658.1" y2="129.72"/>
<line x1="656.7" y1="126.19" x2="659.3" y2="126.19"/>
<line x1="656.7" y1="122.67" x2="658.1" y2="122.67"/>
<line x1="656.7" y1="119.15" x2="658.1" y2="119.15"/>
<line x1="656.7" y1="115.64" x2="658.1" y2="115.64"/>
<line x1="656.7" y1="112.14" x2="658.1" y2="112.14"/>
<line x1="656.7" y1="108.65" x2="659.3" y2="108.65"/>
<line x1="656.7" y1="105.16" x2="658.1" y2="105.16"/>
<line x1="656.7" y1="101.68" x2="658.1" y2="101.68"/>
<line x1="656.7" y1="98.21" x2="658.1" y2="98.21"/>
<line x1="656.7" y1="94.74" x2="658.1" y2="94.74"/>
<line x1="656.7" y1="91.28" x2="659.3" y2="91.28"/>
<line x1="656.7" y1="87.83" x2="658.1" y2="87.83"/>
<line x1="656.7" y1="84.39" x2="658.1" y2="84.39"/>
<line x1="656.7" y1="80.95" x2="658.1" y2="80.95"/>
<line x1="656.7" y1="77.52" x2="658.1" y2="77.52"/>
<line x1="656.7" y1="74.09" x2="659.3" y2="74.09"/>
<line x1="656.7" y1="70.67" x2="658.1" y2="70.67"/>
<line x1="656.7" y1="67.26" x2="658.1" y2="67.26"/>
<line x1="656.7" y1="63.85" x2="658.1" y2="63.85"/>
<line x1="656.7" y1="60.46" x2="658.1" y2="60.46"/>
<line x1="656.7" y1="57.06" x2="659.3" y2="57.06"/>
<line x1="656.7" y1="53.68" x2="658.1" y2="53.68"/>
<line x1="656.7" y1="50.30" x2="658.1" y2="50.30"/>
<line x1="656.7" y1="46.93" x2="658.1" y2="46.93"/>
<line x1="656.7" y1="43.56" x2="658.1" y2="43.56"/>
<line x1="656.7" y1="40.20" x2="659.3" y2="40.20"/>
<line x1="656.7" y1="36.85" x2="658.1" y2="36.85"/>
<line x1="656.7" y1="33.50" x2="658.1" y2="33.50"/>
<line x1="656.7" y1="30.16" x2="658.1" y2="30.16"/>
</g>
<text x="660.4" y="479.3" font-size="10" textLength="23.1" lengthAdjust="spacing" fill="#000" stroke="#000" stroke-width="0.16">1620</text>
<text x="660.4" y="457.9" font-size="10" textLength="23.1" lengthAdjust="spacing" fill="#000" stroke="#000" stroke-width="0.16">1640</text>
<text x="660.4" y="436.7" font-size="10" textLength="23.1" lengthAdjust="spacing" fill="#000" stroke="#000" stroke-width="0.16">1660</text>
<text x="660.4" y="415.8" font-size="10" textLength="23.1" lengthAdjust="spacing" fill="#000" stroke="#000" stroke-width="0.16">1680</text>
<text x="660.4" y="395.2" font-size="10" textLength="23.1" lengthAdjust="spacing" fill="#000" stroke="#000" stroke-width="0.16">1700</text>
<text x="660.4" y="374.8" font-size="10" textLength="23.1" lengthAdjust="spacing" fill="#000" stroke="#000" stroke-width="0.16">1720</text>
<text x="660.4" y="354.6" font-size="10" textLength="23.1" lengthAdjust="spacing" fill="#000" stroke="#000" stroke-width="0.16">1740</text>
<text x="660.4" y="334.6" font-size="10" textLength="23.1" lengthAdjust="spacing" fill="#000" stroke="#000" stroke-width="0.16">1760</text>
<text x="660.4" y="314.9" font-size="10" textLength="23.1" lengthAdjust="spacing" fill="#000" stroke="#000" stroke-width="0.16">1780</text>
<text x="660.4" y="295.4" font-size="10" textLength="23.1" lengthAdjust="spacing" fill="#000" stroke="#000" stroke-width="0.16">1800</text>
<text x="660.4" y="276.1" font-size="10" textLength="23.1" lengthAdjust="spacing" fill="#000" stroke="#000" stroke-width="0.16">1820</text>
<text x="660.4" y="257.1" font-size="10" textLength="23.1" lengthAdjust="spacing" fill="#000" stroke="#000" stroke-width="0.16">1840</text>
<text x="660.4" y="238.2" font-size="10" textLength="23.1" lengthAdjust="spacing" fill="#000" stroke="#000" stroke-width="0.16">1860</text>
<text x="660.4" y="219.5" font-size="10" textLength="23.1" lengthAdjust="spacing" fill="#000" stroke="#000" stroke-width="0.16">1880</text>
<text x="660.4" y="201.1" font-size="10" textLength="23.1" lengthAdjust="spacing" fill="#000" stroke="#000" stroke-width="0.16">1900</text>
<text x="660.4" y="182.8" font-size="10" textLength="23.1" lengthAdjust="spacing" fill="#000" stroke="#000" stroke-width="0.16">1920</text>
<text x="660.4" y="164.7" font-size="10" textLength="23.1" lengthAdjust="spacing" fill="#000" stroke="#000" stroke-width="0.16">1940</text>
<text x="660.4" y="146.8" font-size="10" textLength="23.1" lengthAdjust="spacing" fill="#000" stroke="#000" stroke-width="0.16">1960</text>
<text x="660.4" y="129.1" font-size="10" textLength="23.1" lengthAdjust="spacing" fill="#000" stroke="#000" stroke-width="0.16">1980</text>
<text x="659.5" y="111.5" font-size="10" textLength="24.0" lengthAdjust="spacing" fill="#000" stroke="#000" stroke-width="0.16">2000</text>
<text x="659.5" y="94.2" font-size="10" textLength="24.0" lengthAdjust="spacing" fill="#000" stroke="#000" stroke-width="0.16">2020</text>
<text x="659.5" y="77.0" font-size="10" textLength="24.0" lengthAdjust="spacing" fill="#000" stroke="#000" stroke-width="0.16">2040</text>
<text x="659.5" y="60.0" font-size="10" textLength="24.0" lengthAdjust="spacing" fill="#000" stroke="#000" stroke-width="0.16">2060</text>
<text x="659.5" y="43.1" font-size="10" textLength="24.0" lengthAdjust="spacing" fill="#000" stroke="#000" stroke-width="0.16">2080</text>
<text x="22.9" y="467.0" font-size="10" textLength="21.0" lengthAdjust="spacing" fill="#000" stroke="#000" stroke-width="0.16">25M</text>
<line x1="44.0" y1="464.1" x2="46.5" y2="464.1" stroke="#999" stroke-width="0.8"/>
<text x="22.9" y="447.7" font-size="10" textLength="21.0" lengthAdjust="spacing" fill="#000" stroke="#000" stroke-width="0.16">50M</text>
<line x1="44.0" y1="444.8" x2="46.5" y2="444.8" stroke="#999" stroke-width="0.8"/>
<text x="22.9" y="428.4" font-size="10" textLength="21.0" lengthAdjust="spacing" fill="#000" stroke="#000" stroke-width="0.16">75M</text>
<line x1="44.0" y1="425.5" x2="46.5" y2="425.5" stroke="#999" stroke-width="0.8"/>
<text x="17.1" y="409.1" font-size="10" textLength="27.8" lengthAdjust="spacing" fill="#000" stroke="#000" stroke-width="0.16">100M</text>
<line x1="44.0" y1="406.2" x2="46.5" y2="406.2" stroke="#999" stroke-width="0.8"/>
<text x="17.1" y="389.8" font-size="10" textLength="27.8" lengthAdjust="spacing" fill="#000" stroke="#000" stroke-width="0.16">125M</text>
<line x1="44.0" y1="386.9" x2="46.5" y2="386.9" stroke="#999" stroke-width="0.8"/>
<text x="17.1" y="370.5" font-size="10" textLength="27.8" lengthAdjust="spacing" fill="#000" stroke="#000" stroke-width="0.16">150M</text>
<line x1="44.0" y1="367.6" x2="46.5" y2="367.6" stroke="#999" stroke-width="0.8"/>
<text x="17.1" y="351.2" font-size="10" textLength="27.8" lengthAdjust="spacing" fill="#000" stroke="#000" stroke-width="0.16">175M</text>
<line x1="44.0" y1="348.3" x2="46.5" y2="348.3" stroke="#999" stroke-width="0.8"/>
<g stroke="#bbb" stroke-width="0.8">
<line x1="51.50" y1="484.4" x2="51.50" y2="486.2"/>
<line x1="62.50" y1="484.4" x2="62.50" y2="486.2"/>
<line x1="72.50" y1="484.4" x2="72.50" y2="486.2"/>
<line x1="83.50" y1="484.4" x2="83.50" y2="486.2"/>
<line x1="93.50" y1="484.4" x2="93.50" y2="486.2"/>
<line x1="103.50" y1="484.4" x2="103.50" y2="486.2"/>
<line x1="114.50" y1="484.4" x2="114.50" y2="486.2"/>
<line x1="124.50" y1="484.4" x2="124.50" y2="486.2"/>
<line x1="135.50" y1="484.4" x2="135.50" y2="486.2"/>
<line x1="145.50" y1="484.4" x2="145.50" y2="486.2"/>
<line x1="156.50" y1="484.4" x2="156.50" y2="486.2"/>
<line x1="166.50" y1="484.4" x2="166.50" y2="486.2"/>
<line x1="177.50" y1="484.4" x2="177.50" y2="486.2"/>
<line x1="187.50" y1="484.4" x2="187.50" y2="486.2"/>
<line x1="198.50" y1="484.4" x2="198.50" y2="486.2"/>
<line x1="208.50" y1="484.4" x2="208.50" y2="486.2"/>
<line x1="219.50" y1="484.4" x2="219.50" y2="486.2"/>
<line x1="229.50" y1="484.4" x2="229.50" y2="486.2"/>
<line x1="240.50" y1="484.4" x2="240.50" y2="486.2"/>
<line x1="250.50" y1="484.4" x2="250.50" y2="486.2"/>
<line x1="261.50" y1="484.4" x2="261.50" y2="486.2"/>
<line x1="271.50" y1="484.4" x2="271.50" y2="486.2"/>
<line x1="282.50" y1="484.4" x2="282.50" y2="486.2"/>
<line x1="292.50" y1="484.4" x2="292.50" y2="486.2"/>
<line x1="302.50" y1="484.4" x2="302.50" y2="486.2"/>
<line x1="313.50" y1="484.4" x2="313.50" y2="486.2"/>
<line x1="323.50" y1="484.4" x2="323.50" y2="486.2"/>
<line x1="334.50" y1="484.4" x2="334.50" y2="486.2"/>
<line x1="344.50" y1="484.4" x2="344.50" y2="486.2"/>
<line x1="355.50" y1="484.4" x2="355.50" y2="486.2"/>
<line x1="365.50" y1="484.4" x2="365.50" y2="486.2"/>
<line x1="376.50" y1="484.4" x2="376.50" y2="486.2"/>
<line x1="386.50" y1="484.4" x2="386.50" y2="486.2"/>
<line x1="397.50" y1="484.4" x2="397.50" y2="486.2"/>
<line x1="407.50" y1="484.4" x2="407.50" y2="486.2"/>
<line x1="418.50" y1="484.4" x2="418.50" y2="486.2"/>
<line x1="428.50" y1="484.4" x2="428.50" y2="486.2"/>
<line x1="439.50" y1="484.4" x2="439.50" y2="486.2"/>
<line x1="449.50" y1="484.4" x2="449.50" y2="486.2"/>
<line x1="460.50" y1="484.4" x2="460.50" y2="486.2"/>
<line x1="470.50" y1="484.4" x2="470.50" y2="486.2"/>
<line x1="480.50" y1="484.4" x2="480.50" y2="486.2"/>
<line x1="491.50" y1="484.4" x2="491.50" y2="486.2"/>
<line x1="501.50" y1="484.4" x2="501.50" y2="486.2"/>
<line x1="512.50" y1="484.4" x2="512.50" y2="486.2"/>
<line x1="522.50" y1="484.4" x2="522.50" y2="486.2"/>
<line x1="533.50" y1="484.4" x2="533.50" y2="486.2"/>
<line x1="543.50" y1="484.4" x2="543.50" y2="486.2"/>
<line x1="554.50" y1="484.4" x2="554.50" y2="486.2"/>
<line x1="564.50" y1="484.4" x2="564.50" y2="486.2"/>
<line x1="575.50" y1="484.4" x2="575.50" y2="486.2"/>
<line x1="585.50" y1="484.4" x2="585.50" y2="486.2"/>
<line x1="596.50" y1="484.4" x2="596.50" y2="486.2"/>
<line x1="606.50" y1="484.4" x2="606.50" y2="486.2"/>
<line x1="617.50" y1="484.4" x2="617.50" y2="486.2"/>
<line x1="627.50" y1="484.4" x2="627.50" y2="486.2"/>
<line x1="638.50" y1="484.4" x2="638.50" y2="486.2"/>
<line x1="648.50" y1="484.4" x2="648.50" y2="486.2"/>
</g>
<line x1="72.50" y1="484.4" x2="72.50" y2="487.4" stroke="#999" stroke-width="0.8"/>
<text x="63.1" y="495.0" font-size="10" textLength="18.5" lengthAdjust="spacing" fill="#000" stroke="#000" stroke-width="0.16">Aug</text>
<line x1="124.50" y1="484.4" x2="124.50" y2="487.4" stroke="#999" stroke-width="0.8"/>
<text x="115.0" y="495.0" font-size="10" textLength="18.7" lengthAdjust="spacing" fill="#000" stroke="#000" stroke-width="0.16">Sep</text>
<line x1="166.50" y1="484.4" x2="166.50" y2="487.4" stroke="#999" stroke-width="0.8"/>
<text x="157.4" y="495.0" font-size="10" textLength="17.7" lengthAdjust="spacing" fill="#000" stroke="#000" stroke-width="0.16">Oct</text>
<line x1="219.50" y1="484.4" x2="219.50" y2="487.4" stroke="#999" stroke-width="0.8"/>
<text x="209.9" y="495.0" font-size="10" textLength="18.7" lengthAdjust="spacing" fill="#000" stroke="#000" stroke-width="0.16">Nov</text>
<line x1="261.50" y1="484.4" x2="261.50" y2="487.4" stroke="#999" stroke-width="0.8"/>
<text x="251.9" y="495.0" font-size="10" textLength="18.7" lengthAdjust="spacing" fill="#000" stroke="#000" stroke-width="0.16">Dec</text>
<line x1="355.50" y1="484.4" x2="355.50" y2="487.4" stroke="#999" stroke-width="0.8"/>
<text x="346.2" y="495.0" font-size="10" textLength="18.2" lengthAdjust="spacing" fill="#000" stroke="#000" stroke-width="0.16">Feb</text>
<line x1="397.50" y1="484.4" x2="397.50" y2="487.4" stroke="#999" stroke-width="0.8"/>
<text x="388.4" y="495.0" font-size="10" textLength="17.7" lengthAdjust="spacing" fill="#000" stroke="#000" stroke-width="0.16">Mar</text>
<line x1="439.50" y1="484.4" x2="439.50" y2="487.4" stroke="#999" stroke-width="0.8"/>
<text x="430.7" y="495.0" font-size="10" textLength="17.2" lengthAdjust="spacing" fill="#000" stroke="#000" stroke-width="0.16">Apr</text>
<line x1="480.50" y1="484.4" x2="480.50" y2="487.4" stroke="#999" stroke-width="0.8"/>
<text x="470.4" y="495.0" font-size="10" textLength="19.7" lengthAdjust="spacing" fill="#000" stroke="#000" stroke-width="0.16">May</text>
<line x1="533.50" y1="484.4" x2="533.50" y2="487.4" stroke="#999" stroke-width="0.8"/>
<text x="524.5" y="495.0" font-size="10" textLength="17.7" lengthAdjust="spacing" fill="#000" stroke="#000" stroke-width="0.16">Jun</text>
<line x1="575.50" y1="484.4" x2="575.50" y2="487.4" stroke="#999" stroke-width="0.8"/>
<text x="568.7" y="495.0" font-size="10" textLength="13.2" lengthAdjust="spacing" fill="#000" stroke="#000" stroke-width="0.16">Jul</text>
<line x1="627.50" y1="484.4" x2="627.50" y2="487.4" stroke="#999" stroke-width="0.8"/>
<text x="618.1" y="495.0" font-size="10" textLength="18.5" lengthAdjust="spacing" fill="#000" stroke="#000" stroke-width="0.16">Aug</text>
<line x1="302.5" y1="484.4" x2="302.5" y2="487.4" stroke="#999" stroke-width="0.8"/>
<text x="289.6" y="495.0" font-size="11.5" textLength="24.0" lengthAdjust="spacingAndGlyphs" fill="#000" font-weight="bold">2023</text>
<polygon points="654.1,414.3 658.5,409.1 702,409.1 702,419.2 658.5,419.2" fill="#fff" stroke="#000" stroke-width="1.3"/>
<text x="658.5" y="417.7" font-size="10" textLength="43.2" lengthAdjust="spacing" fill="#000" stroke="#000" stroke-width="0.16">8816969</text>
<polygon points="654.1,137.3 658.5,132.3 699.2,132.3 699.2,142.8 658.5,142.8" fill="#fff" stroke="#000" stroke-width="1.3"/>
<text x="658.4" y="141.7" font-size="11" textLength="38.6" lengthAdjust="spacingAndGlyphs" fill="#000" font-weight="bold" stroke="#000" stroke-width="0.3">1966.60</text>
<text transform="translate(46.7,13.5) scale(0.82,1)" font-size="13.4" font-weight="bold" letter-spacing="1.5" stroke="#000" stroke-width="0.35">$GOLD</text>
<text x="93.7" y="13.4" font-size="10.8" textLength="163.3" lengthAdjust="spacingAndGlyphs" fill="#000" >Gold - Continuous Contract (EOD)</text>
<text x="260.8" y="13.4" font-size="8.2" textLength="20.4" lengthAdjust="spacingAndGlyphs" fill="#000" >CME</text>
<text x="566.6" y="13.0" font-size="10.6" textLength="7.9" lengthAdjust="spacingAndGlyphs" fill="#333" stroke="#333" stroke-width="0.25">©</text>
<text x="576.2" y="13.1" font-size="11.3" textLength="79.9" lengthAdjust="spacingAndGlyphs" fill="#3a3a3a" >StockCharts.com</text>
<text x="45.6" y="25.9" font-size="10" textLength="55.8" lengthAdjust="spacing" fill="#000" stroke="#000" stroke-width="0.16">21-Jul-2023</text>
<text x="166.0" y="25.7" font-size="11" textLength="28.3" lengthAdjust="spacingAndGlyphs" fill="#000" font-weight="bold">Open</text>
<text x="198.4" y="25.9" font-size="10" textLength="38.0" lengthAdjust="spacing" fill="#000" stroke="#000" stroke-width="0.16">1958.60</text>
<text x="242.3" y="25.7" font-size="11" textLength="24.2" lengthAdjust="spacingAndGlyphs" fill="#000" font-weight="bold">High</text>
<text x="270.7" y="25.9" font-size="10" textLength="38.1" lengthAdjust="spacing" fill="#000" stroke="#000" stroke-width="0.16">1989.80</text>
<text x="314.2" y="25.7" font-size="11" textLength="23.6" lengthAdjust="spacingAndGlyphs" fill="#000" font-weight="bold">Low</text>
<text x="342.6" y="25.9" font-size="10" textLength="37.8" lengthAdjust="spacing" fill="#000" stroke="#000" stroke-width="0.16">1949.00</text>
<text x="386.6" y="25.7" font-size="11" textLength="31.4" lengthAdjust="spacingAndGlyphs" fill="#000" font-weight="bold">Close</text>
<text x="422.0" y="25.9" font-size="10" textLength="38.6" lengthAdjust="spacing" fill="#000" stroke="#000" stroke-width="0.16">1966.60</text>
<text x="466.7" y="25.7" font-size="11" textLength="41.5" lengthAdjust="spacingAndGlyphs" fill="#000" font-weight="bold">Volume</text>
<text x="512.0" y="25.9" font-size="10" textLength="32.0" lengthAdjust="spacing" fill="#000" stroke="#000" stroke-width="0.16">88.2M</text>
<text x="549.1" y="25.7" font-size="11" textLength="21.1" lengthAdjust="spacingAndGlyphs" fill="#000" font-weight="bold">Chg</text>
<text x="573.8" y="25.9" font-size="10" textLength="74.1" lengthAdjust="spacing" fill="#000" stroke="#000" stroke-width="0.16">+2.20 (+0.11%)</text>
<polygon points="649.0,25.0 657.1,25.0 653.05,20.8" fill="#2a6a2a"/>
</svg>
</body></html>
